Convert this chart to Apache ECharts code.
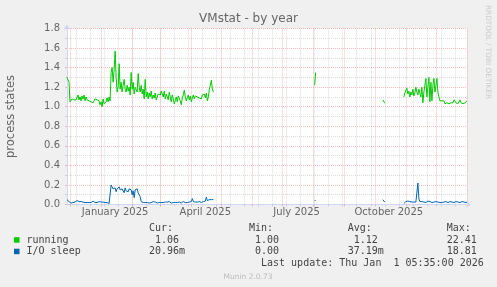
<!DOCTYPE html>
<html><head><meta charset="utf-8">
<script src="https://cdn.jsdelivr.net/npm/echarts@6/dist/echarts.min.js"></script>
<style>html,body{margin:0;padding:0;background:#F0F0F0}#c{width:497px;height:287px}</style>
</head><body><div id="c"></div>
<script>
// ---- data ----
const startDate = '2024-11-28';
const dayCount = 400;
const monthNames = ['January','February','March','April','May','June','July','August','September','October','November','December'];
const labelMonths = [1, 4, 7, 10];
const minorGridStart = '2024-12-07';
const segStarts = ['2024-11-28', '2025-08-02', '2025-10-09', '2025-10-30'];
const runningSegs = [
  [1.30,1.29,1.25,1.05,1.07,1.08,1.07,1.07,1.08,1.07,
   1.08,1.12,1.07,1.10,1.06,1.11,1.08,1.12,1.06,1.10,
   1.07,1.08,1.06,1.07,1.05,1.07,1.04,1.06,1.08,1.09,
   1.07,1.08,1.06,1.02,1.05,1.00,1.08,1.03,1.01,1.05,
   1.09,1.05,1.10,1.06,1.35,1.40,1.25,1.38,1.57,1.30,
   1.15,1.20,1.44,1.18,1.25,1.15,1.22,1.28,1.18,1.15,
   1.22,1.16,1.20,1.12,1.35,1.18,1.25,1.13,1.20,1.22,
   1.15,1.34,1.20,1.15,1.22,1.13,1.18,1.08,1.28,1.10,
   1.15,1.08,1.14,1.10,1.16,1.08,1.12,1.09,1.14,1.07,
   1.10,1.13,1.15,1.12,1.16,1.13,1.10,1.16,1.08,1.13,
   1.11,1.07,1.15,1.10,1.05,1.12,1.08,1.03,1.06,1.10,
   1.05,1.11,1.13,1.06,1.02,1.09,1.12,1.17,1.10,1.06,
   1.09,1.12,1.07,1.11,1.05,1.09,1.12,1.08,1.11,1.09,
   1.10,1.12,1.09,1.11,1.08,1.12,1.10,1.13,1.09,1.14,
   1.06,1.10,1.18,1.22,1.27,1.18,1.15],
  [1.22,1.35],
  [1.07,1.05,1.035],
  [1.10,1.14,1.12,1.19,1.13,1.16,1.10,1.15,1.12,1.18,
   1.11,1.14,1.20,1.15,1.12,1.18,1.14,1.10,1.20,1.04,
   1.15,1.22,1.29,1.10,1.20,1.30,1.05,1.25,1.06,1.22,
   1.29,1.15,1.22,1.29,1.15,1.10,1.06,1.08,1.06,1.04,
   1.06,1.03,1.05,1.04,1.06,1.03,1.05,1.04,1.06,1.04,
   1.07,1.05,1.04,1.06,1.03,1.05,1.07,1.04,1.02,1.03,
   1.05,1.04,1.05,1.06]
];
const ioSleepSegs = [
  [0.05,0.035,0.03,0.02,0.015,0.025,0.02,0.02,0.025,0.02,
   0.04,0.03,0.03,0.025,0.03,0.02,0.025,0.02,0.02,0.025,
   0.02,0.015,0.02,0.025,0.02,0.03,0.035,0.02,0.02,0.015,
   0.02,0.015,0.03,0.02,0.025,0.02,0.025,0.015,0.02,0.035,
   0.02,0.025,0.01,0.02,0.20,0.18,0.16,0.15,0.17,0.13,
   0.16,0.14,0.18,0.15,0.13,0.16,0.14,0.12,0.17,0.14,
   0.15,0.13,0.16,0.14,0.15,0.10,0.14,0.07,0.15,0.13,
   0.16,0.12,0.14,0.08,0.03,0.025,0.02,0.03,0.02,0.025,
   0.02,0.03,0.015,0.025,0.02,0.02,0.03,0.02,0.025,0.02,
   0.015,0.025,0.02,0.03,0.02,0.025,0.02,0.03,0.025,0.02,
   0.025,0.02,0.03,0.02,0.015,0.025,0.02,0.03,0.02,0.025,
   0.02,0.03,0.025,0.02,0.015,0.02,0.03,0.025,0.02,0.025,
   0.02,0.03,0.025,0.02,0.03,0.06,0.03,0.02,0.025,0.02,
   0.025,0.02,0.03,0.025,0.02,0.025,0.03,0.02,0.035,0.075,
   0.04,0.03,0.05,0.035,0.05,0.04,0.05],
  [0.04,0.04],
  [0.05,0.035,0.025],
  [0.01,0.01,0.03,0.04,0.035,0.03,0.03,0.025,0.025,0.03,
   0.025,0.02,0.025,0.025,0.22,0.06,0.03,0.02,0.03,0.035,
   0.025,0.03,0.02,0.025,0.035,0.04,0.03,0.025,0.02,0.03,
   0.025,0.02,0.03,0.02,0.025,0.03,0.02,0.025,0.02,0.03,
   0.025,0.02,0.03,0.025,0.02,0.025,0.03,0.02,0.025,0.03,
   0.02,0.025,0.03,0.02,0.025,0.03,0.02,0.025,0.03,0.02,
   0.025,0.03,0.02,0.025]
];
const seriesNames = ['running', 'I/O sleep'];
const statHeaders = ['Cur:', 'Min:', 'Avg:', 'Max:'];
const runningStats = [' 1.06', ' 1.00', ' 1.12', '22.41'];
const ioSleepStats = ['20.96m', ' 0.00', '37.19m', '18.81'];
const lastUpdate = 'Last update: Thu Jan  1 05:35:00 2026';
const yTicks = {min: 0, max: 1.8, step: 0.2};

// ---- build ----
const DAY = 86400000;
const t0 = Date.parse(startDate + 'T00:00:00Z');
const categories = [];
for (let i = 0; i < dayCount; i++) categories.push(new Date(t0 + i * DAY).toISOString().slice(0, 10));
function buildSeries(segs) {
  const arr = new Array(dayCount).fill(null);
  segs.forEach((vals, k) => {
    const s = categories.indexOf(segStarts[k]);
    vals.forEach((v, j) => { arr[s + j] = v; });
  });
  return arr;
}
const runningData = buildSeries(runningSegs);
const ioSleepData = buildSeries(ioSleepSegs);
const minorStartIdx = categories.indexOf(minorGridStart);
const isMonthStart = (i, v) => v.slice(8) === '01';
const isMinor = (i) => i >= minorStartIdx && (i - minorStartIdx) % 14 === 0;
const isLabel = (i, v) => v.slice(8) === '15' && labelMonths.includes(+v.slice(5, 7));

const FONT = 'DejaVu Sans';
const MONO = 'DejaVu Sans Mono';
const RED = 'rgba(240,60,60,0.34)';
const GRAY = 'rgba(140,140,140,0.3)';
const AXIS = '#CFD6F8';
const TXT = '#666';
const LEG = '#444';

const colX = [149, 249, 347.7, 446.7];
const graphic = [];
const mono = (x, y, t) => ({type: 'text', x: x, y: y, style: {text: t, font: '10px "' + MONO + '"', fill: LEG, textVerticalAlign: 'middle'}});
statHeaders.forEach((h, i) => graphic.push(mono(colX[i], 228.5, h)));
runningStats.forEach((h, i) => graphic.push(mono(colX[i], 240, h)));
ioSleepStats.forEach((h, i) => graphic.push(mono(colX[i], 251.5, h)));
graphic.push(mono(261, 263.5, lastUpdate));
graphic.push({type: 'text', x: 248, y: 277, style: {text: 'Munin 2.0.73', font: '7.5px "' + FONT + '"', fill: '#bbb', textAlign: 'center', textVerticalAlign: 'middle'}});
graphic.push({type: 'text', x: 488, y: 5, rotation: -Math.PI / 2, style: {text: 'RRDTOOL / TOBI OETIKER', font: '7.3px "' + FONT + '"', fill: '#ccc', textAlign: 'left', textVerticalAlign: 'middle'}});

const chart = echarts.init(document.getElementById('c'), null, {renderer: 'canvas'});
chart.setOption({
  animation: false,
  backgroundColor: '#F0F0F0',
  title: {text: 'VMstat - by year', left: 'center', top: 13, padding: 0,
    textStyle: {fontFamily: FONT, fontSize: 12, fontWeight: 'normal', color: TXT}},
  grid: {left: 67, right: 30, top: 28.5, bottom: 82.5, show: true, backgroundColor: '#FFFFFF', borderWidth: 0,
    containLabel: false, outerBoundsMode: 'none'},
  legend: {orient: 'vertical', left: 14, top: 234.2, itemWidth: 5.5, itemHeight: 5.5, itemGap: 0, icon: 'rect', padding: 0,
    data: seriesNames, selectedMode: false,
    textStyle: {fontFamily: MONO, fontSize: 10, color: LEG, lineHeight: 11.5, padding: [0, 0, 0, 2]}},
  xAxis: [{
    type: 'category', data: categories, boundaryGap: false, position: 'bottom',
    axisLine: {show: true, lineStyle: {color: AXIS, width: 1}, symbol: ['none', 'arrow'], symbolSize: [5, 5], symbolOffset: [0, 4]},
    axisTick: {show: true, interval: isMonthStart, length: 2, inside: false, lineStyle: {color: RED}},
    axisLabel: {show: true, interval: isLabel, margin: 3, fontFamily: FONT, fontSize: 10, color: TXT,
      formatter: v => monthNames[+v.slice(5, 7) - 1] + ' ' + v.slice(0, 4)},
    splitLine: {show: true, interval: isMonthStart, lineStyle: {color: RED, type: [1, 1], width: 1}}
  }, {
    type: 'category', data: categories, boundaryGap: false, position: 'bottom',
    axisLine: {show: false}, axisLabel: {show: false},
    axisTick: {show: true, interval: isMinor, length: 2, lineStyle: {color: GRAY}},
    splitLine: {show: true, interval: isMinor, lineStyle: {color: GRAY, type: [1, 1], width: 1}}
  }],
  yAxis: {
    type: 'value', min: yTicks.min, max: yTicks.max, interval: yTicks.step,
    name: 'process states', nameLocation: 'middle', nameGap: 50, nameRotate: 90,
    nameTextStyle: {fontFamily: FONT, fontSize: 11.5, color: TXT},
    axisLine: {show: true, lineStyle: {color: AXIS, width: 1}, symbol: ['none', 'arrow'], symbolSize: [5, 5], symbolOffset: [0, 4]},
    axisTick: {show: true, length: 2, lineStyle: {color: RED}},
    minorTick: {show: true, splitNumber: 2, length: 2, lineStyle: {color: GRAY}},
    axisLabel: {margin: 7, fontFamily: FONT, fontSize: 10, color: TXT, formatter: v => v.toFixed(1)},
    splitLine: {show: true, lineStyle: {color: RED, type: [1, 1], width: 1}},
    minorSplitLine: {show: true, lineStyle: {color: GRAY, type: [1, 1], width: 1}}
  },
  series: [
    {name: seriesNames[0], type: 'line', data: runningData, showSymbol: false, connectNulls: false,
      itemStyle: {color: '#00CC00'}, lineStyle: {color: '#00CC00', width: 1}},
    {name: seriesNames[1], type: 'line', data: ioSleepData, showSymbol: false, connectNulls: false,
      itemStyle: {color: '#0066B3'}, lineStyle: {color: '#0066B3', width: 1}}
  ],
  graphic: graphic
});
</script></body></html>
